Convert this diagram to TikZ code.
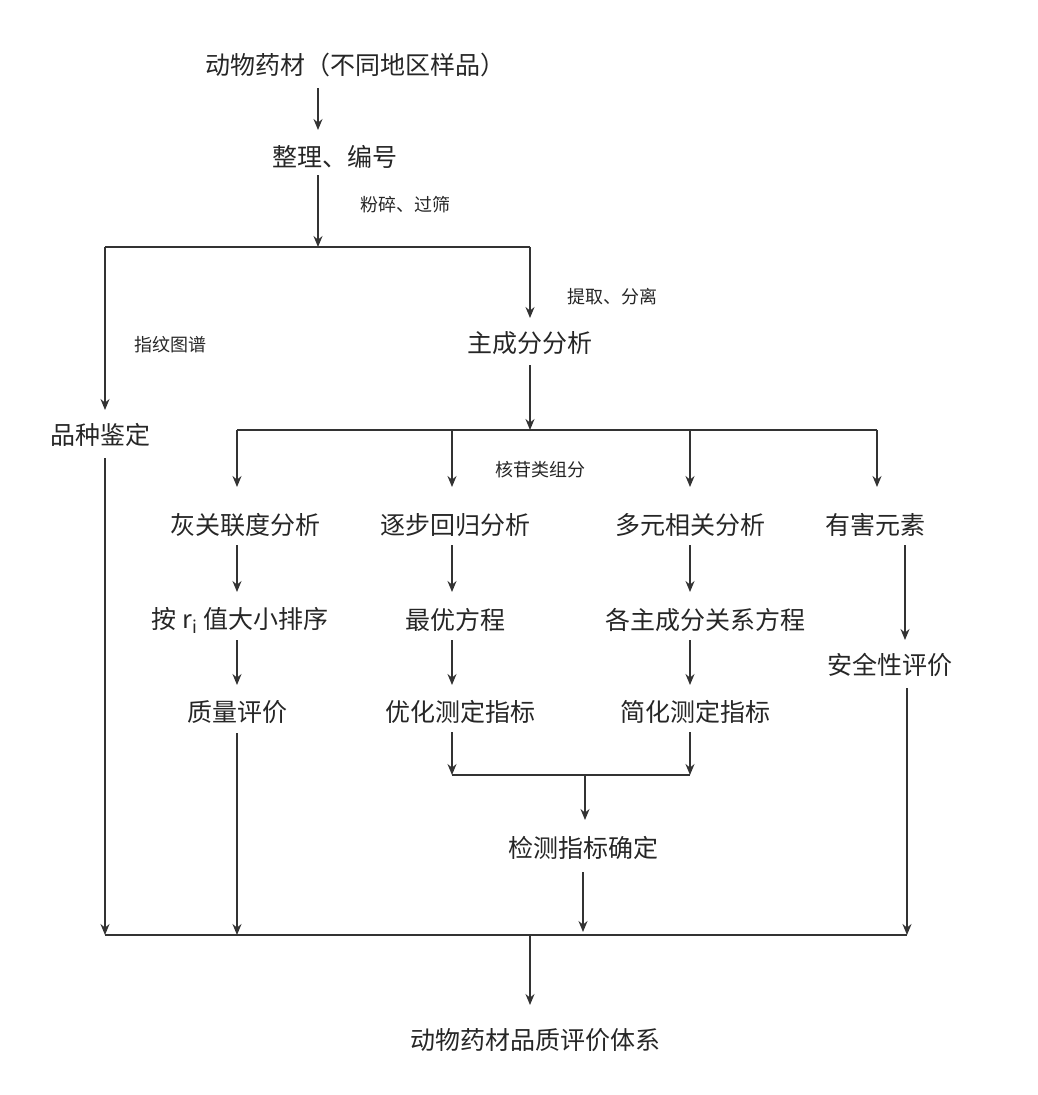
\documentclass[tikz,border=0pt]{standalone}
\usepackage{fontspec}
\setmainfont{Noto Sans CJK SC}
\usetikzlibrary{arrows.meta}
\begin{document}
\begin{tikzpicture}[x=1pt,y=-1pt,
  box/.style={font=\fontsize{25}{28}\selectfont,inner sep=2pt,text=black!85},
  lab/.style={font=\fontsize{18}{20}\selectfont,inner sep=1pt,text=black!85},
  ln/.style={line width=1.6pt,black!80},
  ar/.style={ln,-{Stealth[length=11pt,width=9pt]}}]
\useasboundingbox (0,0) rectangle (1038,1095);
\node[box] (a) at (355,65) {动物药材（不同地区样品）};
\node[box] (b) at (335,157) {整理、编号};
\node[box] (pz) at (100,435) {品种鉴定};
\node[box] (zc) at (530,343) {主成分分析};
\node[box] (h1) at (245,525) {灰关联度分析};
\node[box] (h2) at (455,525) {逐步回归分析};
\node[box] (h3) at (690,525) {多元相关分析};
\node[box] (h4) at (875,525) {有害元素};
\node[box] (m1) at (240,620) {按 r$_\mathrm{i}$ 值大小排序};
\node[box] (m2) at (455,620) {最优方程};
\node[box] (m3) at (705,620) {各主成分关系方程};
\node[box] (aq) at (890,665) {安全性评价};
\node[box] (l1) at (237,712) {质量评价};
\node[box] (l2) at (460,712) {优化测定指标};
\node[box] (l3) at (695,712) {简化测定指标};
\node[box] (jc) at (583,848) {检测指标确定};
\node[box] (fin) at (535,1040) {动物药材品质评价体系};
\node[lab] at (405,205) {粉碎、过筛};
\node[lab] at (170,345) {指纹图谱};
\node[lab] at (612,297) {提取、分离};
\node[lab] at (540,470) {核苷类组分};
% coordinates
\coordinate (s1) at (318,247); \coordinate (sL) at (105,247); \coordinate (sR) at (530,247);
\coordinate (t1) at (530,430); \coordinate (tL) at (237,430); \coordinate (tR) at (877,430);
\coordinate (t2) at (452,430); \coordinate (t3) at (690,430);
\coordinate (u1) at (452,775); \coordinate (u2) at (690,775); \coordinate (uM) at (585,775);
\coordinate (bL) at (105,935); \coordinate (bR) at (907,935); \coordinate (bM) at (530,935);
\draw[ar] (318,88) -- (318,130);
\draw[ar] (318,175) -- (s1);
\draw[ln] (sL) -- (sR);
\draw[ar] (sL) -- (105,410);
\draw[ar] (sR) -- (530,318);
\draw[ar] (530,365) -- (t1);
\draw[ln] (tL) -- (tR);
\draw[ar] (tL) -- (237,487);
\draw[ar] (t2) -- (452,487);
\draw[ar] (t3) -- (690,487);
\draw[ar] (tR) -- (877,487);
\draw[ar] (237,545) -- (237,592);
\draw[ar] (452,545) -- (452,592);
\draw[ar] (690,545) -- (690,592);
\draw[ar] (905,545) -- (905,640);
\draw[ar] (237,640) -- (237,685);
\draw[ar] (452,640) -- (452,685);
\draw[ar] (690,640) -- (690,685);
\draw[ar] (452,732) -- (u1);
\draw[ar] (690,732) -- (u2);
\draw[ln] (u1) -- (u2);
\draw[ar] (uM) -- (585,820);
\draw[ar] (583,872) -- (583,932);
\draw[ln] (bL) -- (bR);
\draw[ar] (105,458) -- (bL);
\draw[ar] (237,733) -- (237,935);
\draw[ar] (907,688) -- (bR);
\draw[ar] (bM) -- (530,1005);
\end{tikzpicture}
\end{document}
